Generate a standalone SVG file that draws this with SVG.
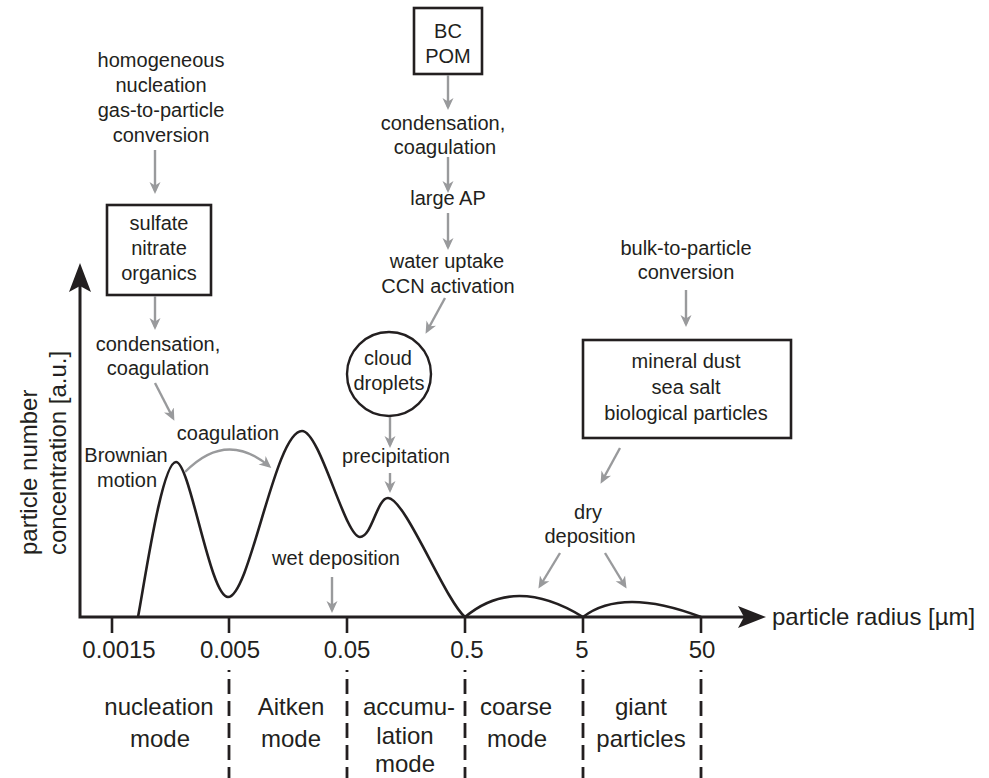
<svg xmlns="http://www.w3.org/2000/svg" width="989" height="778" viewBox="0 0 989 778">
<style>
  text { font-family: "Liberation Sans", Arial, sans-serif; fill: #231f20; }
  .ann { font-size: 20px; text-anchor: middle; }
  .big { font-size: 24px; text-anchor: middle; }
  .box { fill: #fff; stroke: #231f20; stroke-width: 2.6; }
  .garrow { fill: none; stroke: #999a9c; stroke-width: 2.4; marker-end: url(#gh); }
  .axis { fill: none; stroke: #231f20; stroke-width: 3; }
  .tick { stroke: #231f20; stroke-width: 2.6; }
  .dash { stroke: #231f20; stroke-width: 2.8; stroke-dasharray: 15 7; stroke-dashoffset: 13; }
  .curve { fill: none; stroke: #231f20; stroke-width: 2.6; }
</style>
<defs>
  <marker id="gh" viewBox="0 0 12 12" refX="9" refY="6" markerUnits="userSpaceOnUse" markerWidth="12" markerHeight="12" orient="auto">
    <path d="M0,0.5 L12,6 L0,11.5 L3.5,6 z" fill="#999a9c"/>
  </marker>
</defs>
<rect width="989" height="778" fill="#fff"/>

<g id="axes">
  <path class="axis" d="M80,285 L80,617 L745,617"/>
  <path d="M80,263 L91,292 L80,286 L69,292 z" fill="#231f20"/>
  <path d="M766,617 L738,606 L744,617 L738,628 z" fill="#231f20"/>
  <line class="tick" x1="112" y1="617" x2="112" y2="633"/>
  <line class="tick" x1="229" y1="617" x2="229" y2="633"/>
  <line class="tick" x1="347" y1="617" x2="347" y2="633"/>
  <line class="tick" x1="465" y1="617" x2="465" y2="633"/>
  <line class="tick" x1="583" y1="617" x2="583" y2="633"/>
  <line class="tick" x1="701" y1="617" x2="701" y2="633"/>
  <text class="big" x="119" y="658">0.0015</text>
  <text class="big" x="230" y="658">0.005</text>
  <text class="big" x="347" y="658">0.05</text>
  <text class="big" x="467" y="658">0.5</text>
  <text class="big" x="582" y="658">5</text>
  <text class="big" x="702" y="658">50</text>
  <text x="772" y="625" font-size="24">particle radius [µm]</text>
  <text transform="rotate(-90)" x="-555" y="37" font-size="24">particle number</text>
  <text transform="rotate(-90)" x="-555" y="66" font-size="24">concentration [a.u.]</text>
</g>

<g id="modes">
  <line class="dash" x1="229" y1="670" x2="229" y2="778"/>
  <line class="dash" x1="347" y1="670" x2="347" y2="778"/>
  <line class="dash" x1="465" y1="670" x2="465" y2="778"/>
  <line class="dash" x1="583" y1="670" x2="583" y2="778"/>
  <line class="dash" x1="701" y1="670" x2="701" y2="778"/>
  <text class="big" x="159" y="715">nucleation</text>
  <text class="big" x="160" y="747">mode</text>
  <text class="big" x="291" y="715">Aitken</text>
  <text class="big" x="291" y="747">mode</text>
  <text class="big" x="409" y="715">accumu-</text>
  <text class="big" x="405" y="744">lation</text>
  <text class="big" x="405" y="772">mode</text>
  <text class="big" x="516" y="715">coarse</text>
  <text class="big" x="517" y="747">mode</text>
  <text class="big" x="641" y="715">giant</text>
  <text class="big" x="641" y="747">particles</text>
</g>

<g id="distribution">
  <path class="curve" d="M138,617 C145,580 162,462 176,462 C190,462 210,597 228,597 C250,597 275,431 302,431 C320,431 345,537 360,537 C372,537 377,498 388,498 C405,498 445,600 465,617"/>
  <path class="curve" d="M465,617 Q515,575 583,617"/>
  <path class="curve" d="M583,617 Q622,587 701,617"/>
</g>

<g id="node-homogeneous">
  <text class="ann" x="161" y="67">homogeneous</text>
  <text class="ann" x="161" y="92">nucleation</text>
  <text class="ann" x="161" y="117">gas-to-particle</text>
  <text class="ann" x="161" y="142">conversion</text>
</g>
<g id="node-sulfate">
  <rect class="box" x="107" y="205" width="104" height="90"/>
  <text class="ann" x="159" y="230">sulfate</text>
  <text class="ann" x="159" y="255">nitrate</text>
  <text class="ann" x="159" y="280">organics</text>
</g>
<g id="node-condensation1">
  <text class="ann" x="158" y="351">condensation,</text>
  <text class="ann" x="158" y="375">coagulation</text>
</g>
<g id="node-coagulation">
  <text class="ann" x="228" y="440">coagulation</text>
</g>
<g id="node-brownian">
  <text class="ann" x="126" y="462">Brownian</text>
  <text class="ann" x="127" y="487">motion</text>
</g>
<g id="node-bcpom">
  <rect class="box" x="414" y="8" width="68" height="66"/>
  <text class="ann" x="448" y="38">BC</text>
  <text class="ann" x="448" y="63">POM</text>
</g>
<g id="node-condensation2">
  <text class="ann" x="443" y="130">condensation,</text>
  <text class="ann" x="445" y="154">coagulation</text>
</g>
<g id="node-largeap">
  <text class="ann" x="448" y="205">large AP</text>
</g>
<g id="node-water">
  <text class="ann" x="447" y="268">water uptake</text>
  <text class="ann" x="448" y="293">CCN activation</text>
</g>
<g id="node-cloud">
  <circle cx="389" cy="374" r="42" fill="#fff" stroke="#231f20" stroke-width="2.4"/>
  <text class="ann" x="388" y="365">cloud</text>
  <text class="ann" x="389" y="390">droplets</text>
</g>
<g id="node-precipitation">
  <text class="ann" x="396" y="463">precipitation</text>
</g>
<g id="node-wet">
  <text class="ann" x="336" y="565">wet deposition</text>
</g>
<g id="node-bulk">
  <text class="ann" x="686" y="255">bulk-to-particle</text>
  <text class="ann" x="686" y="279">conversion</text>
</g>
<g id="node-mineral">
  <rect class="box" x="583" y="340" width="208" height="98"/>
  <text class="ann" x="686" y="368">mineral dust</text>
  <text class="ann" x="686" y="394">sea salt</text>
  <text class="ann" x="686" y="420">biological particles</text>
</g>
<g id="node-dry">
  <text class="ann" x="588" y="519">dry</text>
  <text class="ann" x="590" y="543">deposition</text>
</g>

<g id="connectors">
  <line class="garrow" x1="155" y1="150" x2="155" y2="191"/>
  <line class="garrow" x1="155" y1="296" x2="155" y2="327"/>
  <line class="garrow" x1="155" y1="383" x2="173" y2="418"/>
  <path class="garrow" d="M185,472 Q226,430 269,466"/>
  <line class="garrow" x1="448" y1="75" x2="448" y2="107"/>
  <line class="garrow" x1="448" y1="157" x2="448" y2="190"/>
  <line class="garrow" x1="448" y1="213" x2="448" y2="247"/>
  <line class="garrow" x1="445" y1="298" x2="427" y2="331"/>
  <line class="garrow" x1="390" y1="417" x2="390" y2="445"/>
  <line class="garrow" x1="390" y1="473" x2="390" y2="490"/>
  <line class="garrow" x1="332" y1="577" x2="332" y2="610"/>
  <line class="garrow" x1="686" y1="290" x2="686" y2="324"/>
  <line class="garrow" x1="620" y1="448" x2="602" y2="481"/>
  <line class="garrow" x1="560" y1="553" x2="540" y2="586"/>
  <line class="garrow" x1="605" y1="553" x2="625" y2="586"/>
</g>
</svg>
